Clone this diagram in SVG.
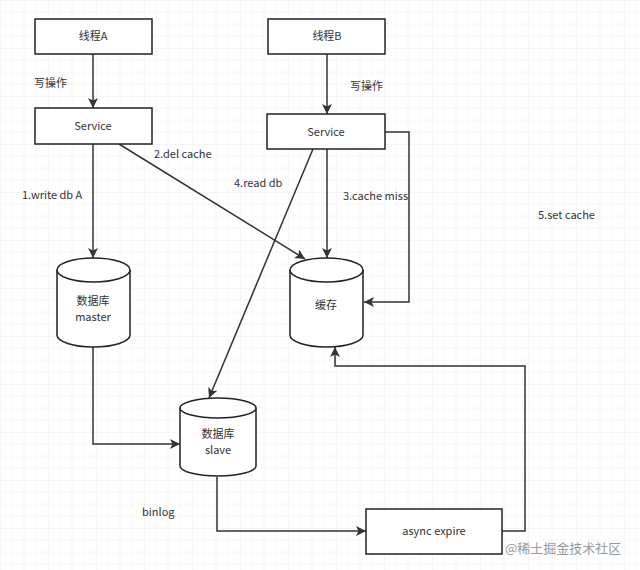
<svg xmlns="http://www.w3.org/2000/svg" width="640" height="570" viewBox="0 0 640 570">
<defs>
<pattern id="grid" width="48" height="48" patternUnits="userSpaceOnUse">
<path d="M0 0H48M0 0V48" fill="none" stroke="#ececec" stroke-width="1"/>
<path d="M0 12H48M0 24H48M0 36H48M12 0V48M24 0V48M36 0V48" fill="none" stroke="#f6f6f6" stroke-width="1"/>
</pattern>
<marker id="arrb" viewBox="0 0 10 10" refX="10" refY="5" markerWidth="10" markerHeight="10" orient="auto" markerUnits="userSpaceOnUse">
<path d="M0 0L10 5L0 10L2.5 5Z" fill="#333"/>
</marker>
</defs>
<style>
.box{fill:#fff;stroke:#222;stroke-width:1.5}
.cyl{fill:#fff;stroke:#222;stroke-width:1.5}
.t{font-family:"Noto Sans CJK SC","Liberation Sans",sans-serif;font-size:11px;fill:#333}
.c{text-anchor:middle}
.ln{fill:none;stroke:#333;stroke-width:1.5}
.wm{font-family:"Noto Sans CJK SC","Liberation Sans",sans-serif;font-size:13px;fill:#9a9a9a}
</style>
<rect width="640" height="570" fill="#fff"/>
<rect width="640" height="570" fill="url(#grid)"/>

<g id="connectors">
<path class="ln" d="M93 54V108" marker-end="url(#arrb)"/>
<path class="ln" d="M327 54V114" marker-end="url(#arrb)"/>
<path class="ln" d="M93 144V258" marker-end="url(#arrb)"/>
<path class="ln" d="M119 144L305 259" marker-end="url(#arrb)"/>
<path class="ln" d="M327 149V258" marker-end="url(#arrb)"/>
<path class="ln" d="M385 132H409V302H364" marker-end="url(#arrb)"/>
<path class="ln" d="M313 149L209 398" marker-end="url(#arrb)"/>
<path class="ln" d="M93 347V444H180" marker-end="url(#arrb)"/>
<path class="ln" d="M217 477V531H366" marker-end="url(#arrb)"/>
<path class="ln" d="M502 531H525V366H335V347" marker-end="url(#arrb)"/>
</g>

<g id="threadA">
<rect class="box" x="35" y="19" width="117" height="35"/>
<text class="t c" x="93" y="40">线程A</text>
</g>
<g id="threadB">
<rect class="box" x="268" y="19" width="117" height="35"/>
<text class="t c" x="327" y="40">线程B</text>
</g>
<g id="serviceA">
<rect class="box" x="35" y="108" width="117" height="36"/>
<text class="t c" x="93" y="130">Service</text>
</g>
<g id="serviceB">
<rect class="box" x="267" y="114" width="118" height="35"/>
<text class="t c" x="326" y="136">Service</text>
</g>
<g id="master">
<path class="cyl" d="M57 270A36.5 12 0 0 1 130 270V335A36.5 12 0 0 1 57 335Z"/>
<path class="cyl" d="M57 270A36.5 12 0 0 0 130 270"/>
<text class="t c" x="93" y="305">数据库</text>
<text class="t c" x="93" y="321">master</text>
</g>
<g id="cache">
<path class="cyl" d="M290 270A36.5 12 0 0 1 363 270V335A36.5 12 0 0 1 290 335Z"/>
<path class="cyl" d="M290 270A36.5 12 0 0 0 363 270"/>
<text class="t c" x="326" y="309">缓存</text>
</g>
<g id="slave">
<path class="cyl" d="M180 408A38 10 0 0 1 256 408V466A38 10 0 0 1 180 466Z"/>
<path class="cyl" d="M180 408A38 10 0 0 0 256 408"/>
<text class="t c" x="218" y="438">数据库</text>
<text class="t c" x="218" y="454">slave</text>
</g>
<g id="asyncExpire">
<rect class="box" x="366" y="509" width="136" height="45"/>
<text class="t c" x="434" y="535">async expire</text>
</g>

<g id="labels">
<text class="t" x="34" y="87">写操作</text>
<text class="t" x="350" y="90">写操作</text>
<text class="t" x="154" y="158">2.del cache</text>
<text class="t" x="234" y="187">4.read db</text>
<text class="t" x="22" y="199">1.write db A</text>
<text class="t" x="343" y="200">3.cache miss</text>
<text class="t" x="538" y="219">5.set cache</text>
<text class="t" x="142" y="516">binlog</text>
</g>
<text class="wm" x="505" y="553">@稀土掘金技术社区</text>
</svg>
